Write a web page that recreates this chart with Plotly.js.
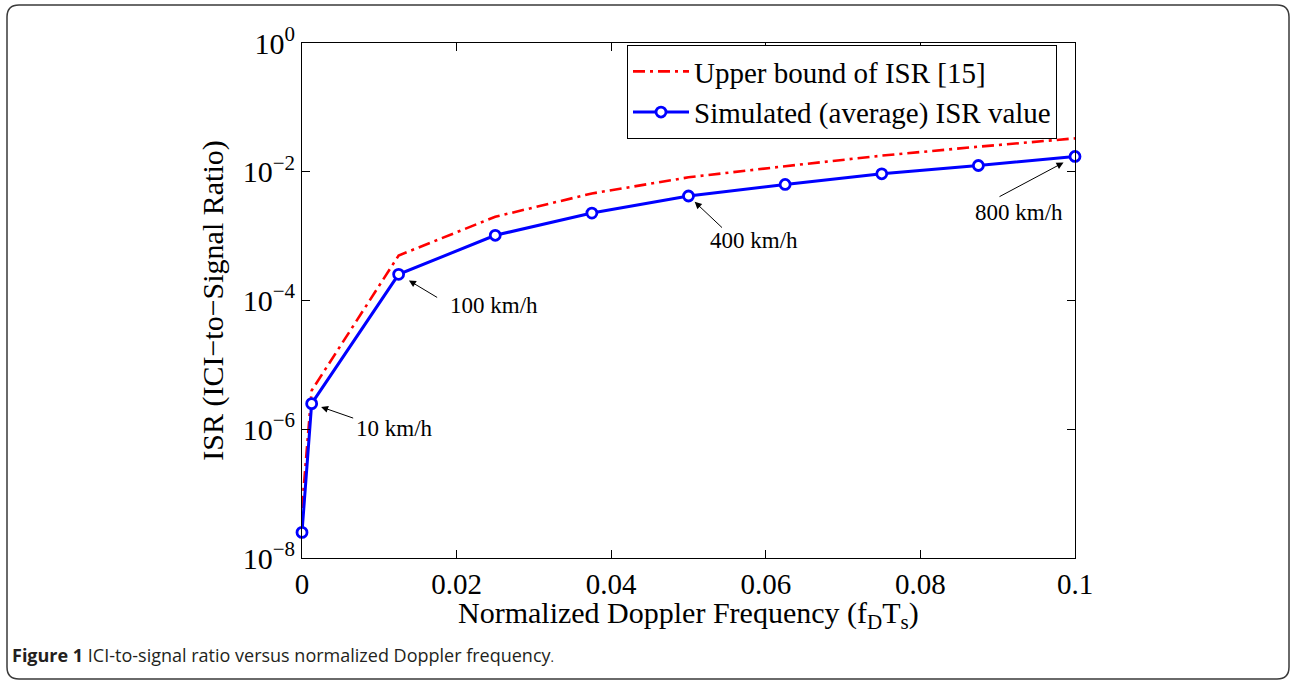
<!DOCTYPE html>
<html>
<head>
<meta charset="utf-8">
<script src="https://cdn.plot.ly/plotly-3.0.1.min.js"></script>
<style>
html,body{margin:0;padding:0;background:#fff;}
#chart{width:1291px;height:681px;}
</style>
</head>
<body>
<div id="chart"></div>
<script>
// ---- data ----
var fdNorm = [0, 0.00125, 0.0125, 0.025, 0.0375, 0.05, 0.0625, 0.075, 0.0875, 0.1];
var isrUpper = [6e-8, 4.0e-6, 5.0e-4, 2.0e-3, 4.6e-3, 8.2e-3, 1.22e-2, 1.78e-2, 2.45e-2, 3.3e-2];
var isrSim = [2.5e-8, 2.5e-6, 2.55e-4, 1.03e-3, 2.28e-3, 4.2e-3, 6.35e-3, 9.3e-3, 1.25e-2, 1.73e-2];
var seriesNames = ['Upper bound of ISR [15]', 'Simulated (average) ISR value'];
var speedLabels = ['10 km/h', '100 km/h', '400 km/h', '800 km/h'];
var speedPointIndex = [1, 2, 5, 9];
var xTickVals = [0, 0.02, 0.04, 0.06, 0.08, 0.1];
var xTickText = ['0', '0.02', '0.04', '0.06', '0.08', '0.1'];
var yTickVals = [1e-8, 1e-6, 1e-4, 1e-2, 1];
var yTickText = ['10<sup>−8</sup>', '10<sup>−6</sup>', '10<sup>−4</sup>', '10<sup>−2</sup>', '10<sup>0</sup>'];

// ---- layout geometry ----
var W = 1291, H = 681;
var M = {l: 302, r: 216, t: 43, b: 123};
var PW = W - M.l - M.r, PH = H - M.t - M.b;
function px(X) { return (X - M.l) / PW; }
function py(Y) { return (H - M.b - Y) / PH; }

var SERIF = 'Liberation Serif, Times New Roman, serif';

var traces = [
  {
    x: fdNorm, y: isrUpper, name: seriesNames[0], type: 'scatter', mode: 'lines',
    line: {color: '#ff0000', width: 2.6, dash: '12px,5px,3px,5px'},
    cliponaxis: false
  },
  {
    x: fdNorm, y: isrSim, name: seriesNames[1], type: 'scatter', mode: 'lines+markers',
    line: {color: '#0000ff', width: 3},
    marker: {symbol: 'circle', size: 10, color: '#ffffff', line: {color: '#0000ff', width: 2.8}},
    cliponaxis: false
  }
];

// arrow + label offsets (pixels) relative to labelled points
var arrowCfg = [
  {ax: 43, ay: 15, standoff: 10, tx: 42, ty: -25},
  {ax: 40, ay: 24, standoff: 12, tx: 49, ty: -31},
  {ax: 35, ay: 33, standoff: 8.5, tx: 19, ty: -44},
  {ax: -77, ay: 41, standoff: 13, tx: -102, ty: -56}
];

var annotations = [];
speedLabels.forEach(function(lbl, i) {
  var k = speedPointIndex[i], c = arrowCfg[i];
  var xv = fdNorm[k], yv = Math.log10(isrSim[k]);
  annotations.push({
    x: xv, y: yv, xref: 'x', yref: 'y', text: '', showarrow: true,
    ax: c.ax, ay: c.ay, axref: 'pixel', ayref: 'pixel',
    arrowhead: 2, arrowsize: 1.4, arrowwidth: 1, arrowcolor: '#000', standoff: c.standoff
  });
  annotations.push({
    x: xv, y: yv, xref: 'x', yref: 'y', text: lbl, showarrow: false,
    xanchor: 'left', yanchor: 'middle', xshift: c.tx, yshift: c.ty,
    font: {family: SERIF, size: 23, color: '#000'}
  });
});

annotations.push({
  xref: 'paper', yref: 'paper', x: px(10), y: py(655), xanchor: 'left', yanchor: 'middle',
  showarrow: false,
  text: '<b>Figure 1</b> ICI-to-signal ratio versus normalized Doppler frequency<span style="font-size:13px">.</span>',
  font: {family: 'Open Sans, Noto Sans, sans-serif', size: 18, color: '#231f20'}
});

// x-axis title placed just under the tick labels
annotations.push({
  xref: 'paper', yref: 'paper', x: 0.5, y: py(615), xanchor: 'center', yanchor: 'middle',
  showarrow: false,
  text: 'Normalized Doppler Frequency (f<sub>D</sub>T<sub>s</sub>)',
  font: {family: SERIF, size: 30, color: '#000'}
});

// rounded outer frame
var L = 7, T = 5, R = 1289, B = 679, r = 12;
var framePath = 'M ' + px(L) + ',' + py(T + r) +
  ' Q ' + px(L) + ',' + py(T) + ' ' + px(L + r) + ',' + py(T) +
  ' L ' + px(R - r) + ',' + py(T) +
  ' Q ' + px(R) + ',' + py(T) + ' ' + px(R) + ',' + py(T + r) +
  ' L ' + px(R) + ',' + py(B - r) +
  ' Q ' + px(R) + ',' + py(B) + ' ' + px(R - r) + ',' + py(B) +
  ' L ' + px(L + r) + ',' + py(B) +
  ' Q ' + px(L) + ',' + py(B) + ' ' + px(L) + ',' + py(B - r) + ' Z';

var layout = {
  width: W, height: H,
  margin: M,
  paper_bgcolor: '#ffffff', plot_bgcolor: '#ffffff',
  font: {family: SERIF, color: '#000'},
  showlegend: true,
  legend: {
    x: px(627), y: py(45), xanchor: 'left', yanchor: 'top',
    bgcolor: '#ffffff', bordercolor: '#000', borderwidth: 1,
    font: {family: SERIF, size: 29, color: '#000'},
    itemwidth: 56, tracegroupgap: 0
  },
  xaxis: {
    range: [0, 0.1], tickvals: xTickVals, ticktext: xTickText,
    ticks: 'inside', ticklen: 8, tickwidth: 1, tickcolor: '#000',
    showline: true, linecolor: '#000', linewidth: 1, mirror: 'ticks',
    showgrid: false, zeroline: false,
    tickfont: {family: SERIF, size: 29, color: '#000'},
    automargin: false
  },
  yaxis: {
    type: 'log', range: [-8, 0], tickvals: yTickVals, ticktext: yTickText,
    ticks: 'inside', ticklen: 8, tickwidth: 1, tickcolor: '#000',
    showline: true, linecolor: '#000', linewidth: 1, mirror: 'ticks',
    showgrid: false, zeroline: false,
    tickfont: {family: SERIF, size: 30, color: '#000'},
    automargin: false,
    title: {text: 'ISR (ICI−to−Signal Ratio)', font: {family: SERIF, size: 30, color: '#000'}, standoff: 10}
  },
  annotations: annotations,
  shapes: [{
    type: 'path', xref: 'paper', yref: 'paper', path: framePath,
    line: {color: '#3a3a3a', width: 1.5}, fillcolor: 'rgba(0,0,0,0)', layer: 'below'
  }]
};

Plotly.newPlot('chart', traces, layout, {displayModeBar: false, staticPlot: true});
</script>
</body>
</html>
